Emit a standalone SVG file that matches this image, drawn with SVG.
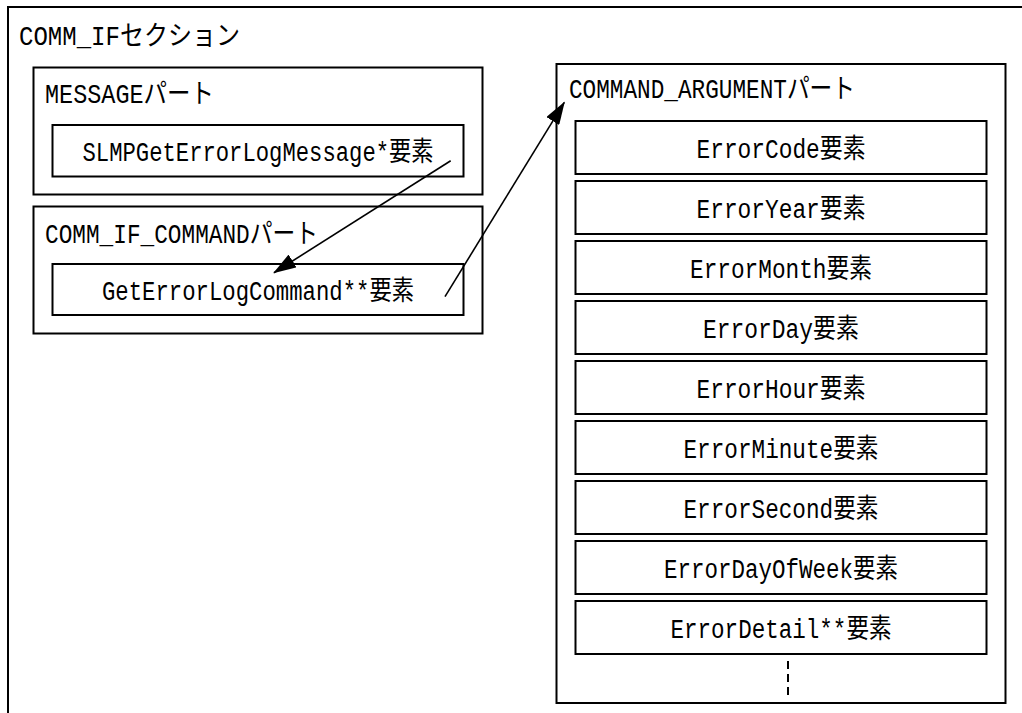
<svg xmlns="http://www.w3.org/2000/svg" width="1022" height="713" viewBox="0 0 1022 713">
<style>
  .box{fill:#fff;stroke:#000;stroke-width:2}
  .outer{fill:#fff;stroke:#000;stroke-width:2}
  .t{font-family:"Liberation Mono","Noto Sans CJK JP",monospace;font-size:27px;fill:#000}
  .c{text-anchor:middle}
  .conn{stroke:#000;stroke-width:1.6;fill:none}
</style>
<defs>
  <marker id="ah" markerUnits="userSpaceOnUse" markerWidth="23" markerHeight="15" refX="22" refY="7.5" orient="auto">
    <path d="M0,0 L23,7.5 L0,15 Z" fill="#000"/>
  </marker>
</defs>
<rect width="1022" height="713" fill="#fff"/>
<g id="comm_if_section">
  <rect class="outer" x="8" y="7" width="1040" height="730"/>
  <text class="t" x="19" y="45" textLength="221" lengthAdjust="spacingAndGlyphs">COMM_IFセクション</text>
</g>
<g id="message_part">
  <rect class="box" x="33.5" y="67.5" width="449" height="127"/>
  <text class="t" x="45" y="103" textLength="169" lengthAdjust="spacingAndGlyphs">MESSAGEパート</text>
</g>
<g id="slmp_message">
  <rect class="box" x="52.5" y="125" width="411" height="51.5"/>
  <text class="t c" x="258" y="161" textLength="351" lengthAdjust="spacingAndGlyphs">SLMPGetErrorLogMessage*要素</text>
</g>
<g id="comm_if_command_part">
  <rect class="box" x="33.5" y="206.5" width="449" height="127"/>
  <text class="t" x="45" y="243" textLength="273" lengthAdjust="spacingAndGlyphs">COMM_IF_COMMANDパート</text>
</g>
<g id="get_error_log_command">
  <rect class="box" x="52.5" y="264" width="411" height="51"/>
  <text class="t c" x="258" y="300" textLength="312" lengthAdjust="spacingAndGlyphs">GetErrorLogCommand**要素</text>
</g>
<g id="command_argument_part">
  <rect class="box" x="556.5" y="64" width="449" height="639"/>
  <text class="t" x="569" y="97.5" textLength="286" lengthAdjust="spacingAndGlyphs">COMMAND_ARGUMENTパート</text>
  <line x1="788" y1="661" x2="788" y2="700" stroke="#000" stroke-width="2" stroke-dasharray="8 5"/>
</g>
<g id="error_code">
  <rect class="box" x="575.5" y="121" width="411" height="53"/>
  <text class="t c" x="781" y="158" textLength="169" lengthAdjust="spacingAndGlyphs">ErrorCode要素</text>
</g>
<g id="error_year">
  <rect class="box" x="575.5" y="181" width="411" height="53"/>
  <text class="t c" x="781" y="218" textLength="169" lengthAdjust="spacingAndGlyphs">ErrorYear要素</text>
</g>
<g id="error_month">
  <rect class="box" x="575.5" y="241" width="411" height="53"/>
  <text class="t c" x="781" y="278" textLength="182" lengthAdjust="spacingAndGlyphs">ErrorMonth要素</text>
</g>
<g id="error_day">
  <rect class="box" x="575.5" y="301" width="411" height="53"/>
  <text class="t c" x="781" y="338" textLength="156" lengthAdjust="spacingAndGlyphs">ErrorDay要素</text>
</g>
<g id="error_hour">
  <rect class="box" x="575.5" y="361" width="411" height="53"/>
  <text class="t c" x="781" y="398" textLength="169" lengthAdjust="spacingAndGlyphs">ErrorHour要素</text>
</g>
<g id="error_minute">
  <rect class="box" x="575.5" y="421" width="411" height="53"/>
  <text class="t c" x="781" y="458" textLength="195" lengthAdjust="spacingAndGlyphs">ErrorMinute要素</text>
</g>
<g id="error_second">
  <rect class="box" x="575.5" y="481" width="411" height="53"/>
  <text class="t c" x="781" y="518" textLength="195" lengthAdjust="spacingAndGlyphs">ErrorSecond要素</text>
</g>
<g id="error_day_of_week">
  <rect class="box" x="575.5" y="541" width="411" height="53"/>
  <text class="t c" x="781" y="578" textLength="234" lengthAdjust="spacingAndGlyphs">ErrorDayOfWeek要素</text>
</g>
<g id="error_detail">
  <rect class="box" x="575.5" y="601" width="411" height="53"/>
  <text class="t c" x="781" y="638" textLength="221" lengthAdjust="spacingAndGlyphs">ErrorDetail**要素</text>
</g>
<g id="connectors">
  <line class="conn" x1="450.7" y1="160.7" x2="274" y2="272.7" marker-end="url(#ah)"/>
  <line class="conn" x1="445" y1="296.7" x2="564.3" y2="102.3" marker-end="url(#ah)"/>
</g>
</svg>
